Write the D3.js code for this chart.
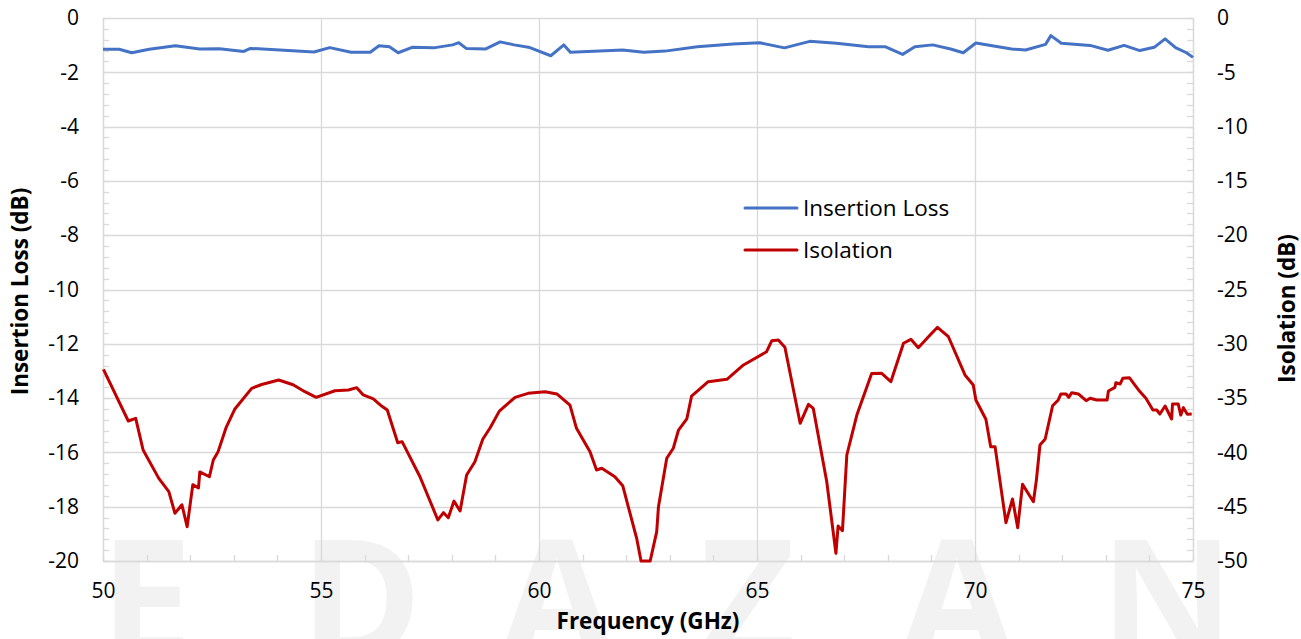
<!DOCTYPE html>
<html>
<head>
<meta charset="utf-8">
<script src="https://cdnjs.cloudflare.com/ajax/libs/d3/7.8.5/d3.min.js"></script>
<style>
  body { margin: 0; background: #fff; }
  text { font-family: "Open Sans", "Noto Sans", sans-serif; }
</style>
</head>
<body>
<div id="chart"></div>
<script>
// Insertion loss (left axis, dB) vs frequency (GHz)
var ilFreq = [50.0, 50.37, 50.66, 51.06, 51.66, 52.22, 52.67, 53.23, 53.38, 54.84, 55.2, 55.69, 56.13, 56.33, 56.57, 56.77, 57.09, 57.58, 58.02, 58.16, 58.33, 58.78, 59.11, 59.43, 59.79, 60.27, 60.57, 60.72, 61.92, 62.4,
  62.89, 63.63, 64.45, 65.06, 65.63, 66.21, 66.82, 67.56, 67.95, 68.34, 68.62, 69.03, 69.44, 69.73, 70.02, 70.84, 71.16, 71.62, 71.74, 71.98, 72.64, 73.05, 73.42, 73.78, 74.11, 74.36, 74.6, 74.85, 75.0];
var ilValue = [-1.15, -1.15, -1.28, -1.15, -1.02, -1.14, -1.13, -1.23, -1.12, -1.25, -1.09, -1.26, -1.26, -1.02, -1.06, -1.28, -1.08, -1.1, -0.99, -0.91, -1.12, -1.14, -0.88, -0.99, -1.09, -1.39, -0.99, -1.26, -1.18, -1.26,
  -1.22, -1.06, -0.96, -0.91, -1.1, -0.86, -0.93, -1.06, -1.06, -1.34, -1.06, -0.99, -1.14, -1.28, -0.92, -1.14, -1.18, -0.97, -0.65, -0.93, -1.01, -1.19, -1.01, -1.2, -1.08, -0.77, -1.09, -1.28, -1.45];

// Isolation (right axis, dB) vs frequency (GHz)
var isoFreq = [50.01, 50.58, 50.75, 50.92, 51.28, 51.51, 51.65, 51.81, 51.93, 52.06, 52.19, 52.22, 52.44, 52.53, 52.64, 52.82, 53.02, 53.41, 53.64, 54.03,
  54.36, 54.63, 54.89, 55.32, 55.63, 55.82, 55.97, 56.2, 56.39, 56.52, 56.76, 56.86, 57.27, 57.68, 57.81, 57.92, 58.05, 58.19, 58.34, 58.53,
  58.71, 58.88, 59.09, 59.45, 59.75, 60.14, 60.41, 60.71, 60.86, 61.17, 61.32, 61.44, 61.74, 61.92, 62.24, 62.34, 62.55, 62.7, 62.74, 62.93,
  63.08, 63.2, 63.39, 63.5, 63.88, 64.31, 64.69, 65.22, 65.34, 65.49, 65.64, 65.99, 66.18, 66.29, 66.6, 66.81, 66.86, 66.96, 67.06, 67.29,
  67.63, 67.86, 68.07, 68.36, 68.53, 68.7, 68.97, 69.14, 69.39, 69.77, 69.96, 70.02, 70.25, 70.36, 70.46, 70.71, 70.86, 70.98, 71.09, 71.34,
  71.41, 71.49, 71.61, 71.78, 71.91, 71.97, 72.09, 72.15, 72.22, 72.37, 72.55, 72.64, 72.79, 73.03, 73.06, 73.21, 73.23, 73.33, 73.39, 73.54,
  73.75, 73.92, 74.08, 74.17, 74.24, 74.36, 74.51, 74.53, 74.66, 74.72, 74.78, 74.87, 74.97];
var isoValue = [-32.35, -37.11, -36.86, -39.78, -42.39, -43.62, -45.61, -44.82, -46.84, -42.97, -43.28, -41.8, -42.24, -40.7, -39.93, -37.75, -36.03, -34.1, -33.75, -33.33,
  -33.77, -34.41, -34.93, -34.32, -34.25, -34.04, -34.71, -35.08, -35.73, -36.1, -39.11, -39.01, -42.24, -46.22, -45.55, -46.01, -44.48, -45.4, -42.08, -40.86,
  -38.79, -37.73, -36.2, -34.93, -34.56, -34.41, -34.62, -35.64, -37.78, -39.93, -41.62, -41.46, -42.24, -43.07, -47.91, -50, -50, -47.3, -45.0, -40.54,
  -39.62, -37.94, -36.92, -34.81, -33.49, -33.27, -31.95, -30.73, -29.71, -29.65, -30.32, -37.32, -35.57, -35.94, -42.7, -49.29, -46.78, -47.21, -40.24, -36.56,
  -32.73, -32.72, -33.49, -29.95, -29.59, -30.36, -29.19, -28.48, -29.35, -32.87, -33.79, -35.17, -36.95, -39.47, -39.47, -46.47, -44.29, -46.93, -42.94, -44.54,
  -42.48, -39.32, -38.77, -35.7, -35.17, -34.62, -34.62, -34.93, -34.5, -34.62, -35.24, -35.02, -35.17, -35.17, -34.35, -34.01, -33.58, -33.7, -33.18, -33.12,
  -34.25, -35.02, -36.1, -36.1, -36.46, -35.73, -36.92, -35.54, -35.54, -36.56, -35.88, -36.49, -36.46];

var xTicks = [50, 55, 60, 65, 70, 75];
var leftTicks = [0, -2, -4, -6, -8, -10, -12, -14, -16, -18, -20];
var rightTicks = [0, -5, -10, -15, -20, -25, -30, -35, -40, -45, -50];
var seriesNames = ["Insertion Loss", "Isolation"];

var W = 1301, H = 639;
var margin = {top: 18, right: 108, bottom: 78, left: 103};
var width = W - margin.left - margin.right;
var height = H - margin.top - margin.bottom;
var gridColor = "#d9d9d9";
var colors = ["#4472C4", "#C00000"];

var svg = d3.select("#chart").append("svg")
    .attr("width", W)
    .attr("height", H)
    .style("display", "block");

svg.append("rect").attr("width", W).attr("height", H).attr("fill", "#fff");

// faint watermark letters behind the chart
var mark = svg.append("g")
    .attr("fill", "#f2f2f2")
    .style("font-family", "Lato, sans-serif")
    .style("font-weight", 700)
    .style("font-size", "165px");
["E", "D", "A", "Z", "A", "N"].forEach(function (ch, i) {
    mark.append("text")
        .attr("x", 100 + i * 200)
        .attr("y", 658)
        .text(ch);
});

var x = d3.scaleLinear().domain([50, 75]).range([0, width]);
var yL = d3.scaleLinear().domain([-20, 0]).range([height, 0]);
var yR = d3.scaleLinear().domain([-50, 0]).range([height, 0]);

var g = svg.append("g").attr("transform", "translate(" + margin.left + "," + margin.top + ")");

// gridlines
g.append("g")
    .selectAll("line")
    .data(leftTicks)
    .enter().append("line")
    .attr("x1", 0).attr("x2", width)
    .attr("y1", function (d) { return Math.round(yL(d)) + 0.5; })
    .attr("y2", function (d) { return Math.round(yL(d)) + 0.5; })
    .attr("stroke", gridColor).attr("stroke-width", 1.3);
g.append("g")
    .selectAll("line")
    .data(xTicks)
    .enter().append("line")
    .attr("x1", function (d) { return Math.round(x(d)) + 0.5; })
    .attr("x2", function (d) { return Math.round(x(d)) + 0.5; })
    .attr("y1", 0).attr("y2", height)
    .attr("stroke", gridColor).attr("stroke-width", 1.3);

// minor ticks drawn inside the plot
var minorLeft = d3.range(0, 51).map(function (i) { return -i * 0.4; });
var minorRight = d3.range(0, 51).map(function (i) { return -i; });
var minorX = d3.range(50, 76, 1);

var ticks = g.append("g").attr("stroke", gridColor).attr("stroke-width", 1.3);
ticks.selectAll(".ml").data(minorLeft).enter().append("line")
    .attr("x1", 0).attr("x2", 6)
    .attr("y1", function (d) { return Math.round(yL(d)) + 0.5; })
    .attr("y2", function (d) { return Math.round(yL(d)) + 0.5; });
ticks.selectAll(".mr").data(minorRight).enter().append("line")
    .attr("x1", width - 6).attr("x2", width)
    .attr("y1", function (d) { return Math.round(yR(d)) + 0.5; })
    .attr("y2", function (d) { return Math.round(yR(d)) + 0.5; });
ticks.selectAll(".mx").data(minorX).enter().append("line")
    .attr("x1", function (d) { return Math.round(x(d)) + 0.5; })
    .attr("x2", function (d) { return Math.round(x(d)) + 0.5; })
    .attr("y1", height - 6).attr("y2", height);

// axes (labels only, lines styled light grey)
var fmt = function (d) { return String(d); };
var axisB = g.append("g")
    .attr("transform", "translate(0," + height + ")")
    .call(d3.axisBottom(x).tickValues(xTicks).tickFormat(fmt).tickSize(0).tickPadding(22));
var axisL = g.append("g")
    .call(d3.axisLeft(yL).tickValues(leftTicks).tickFormat(fmt).tickSize(0).tickPadding(24));
var axisR = g.append("g")
    .attr("transform", "translate(" + width + ",0)")
    .call(d3.axisRight(yR).tickValues(rightTicks).tickFormat(fmt).tickSize(0).tickPadding(24));

[axisB, axisL, axisR].forEach(function (a) {
    a.select(".domain").attr("stroke", gridColor).attr("stroke-width", 1.3);
    a.selectAll("text")
        .attr("fill", "#000")
        .style("font-size", "21px")
        .style("font-family", "'Open Sans', sans-serif");
});

// series lines
var lineL = d3.line()
    .x(function (d) { return x(d[0]); })
    .y(function (d) { return yL(d[1]); });
var lineR = d3.line()
    .x(function (d) { return x(d[0]); })
    .y(function (d) { return yR(d[1]); });

g.append("path")
    .datum(d3.zip(isoFreq, isoValue))
    .attr("fill", "none")
    .attr("stroke", colors[1])
    .attr("stroke-width", 3)
    .attr("stroke-linejoin", "round")
    .attr("d", lineR);

g.append("path")
    .datum(d3.zip(ilFreq, ilValue))
    .attr("fill", "none")
    .attr("stroke", colors[0])
    .attr("stroke-width", 3)
    .attr("stroke-linejoin", "round")
    .attr("d", lineL);

// axis titles
svg.append("text")
    .attr("x", margin.left + width / 2)
    .attr("y", 629)
    .attr("text-anchor", "middle")
    .style("font-size", "22.5px")
    .style("font-weight", "bold")
    .text("Frequency (GHz)");

svg.append("text")
    .attr("transform", "translate(28," + (margin.top + height / 2 + 2) + ") rotate(-90)")
    .attr("text-anchor", "middle")
    .style("font-size", "22.5px")
    .style("font-weight", "bold")
    .text("Insertion Loss (dB)");

svg.append("text")
    .attr("transform", "translate(1295," + (margin.top + height / 2 + 19) + ") rotate(-90)")
    .attr("text-anchor", "middle")
    .style("font-size", "22.5px")
    .style("font-weight", "bold")
    .text("Isolation (dB)");

// legend
var legend = svg.append("g")
    .selectAll("g")
    .data(seriesNames)
    .enter().append("g")
    .attr("transform", function (d, i) { return "translate(745," + (208 + i * 42) + ")"; });
legend.append("line")
    .attr("x1", 0).attr("x2", 52)
    .attr("stroke", function (d, i) { return colors[i]; })
    .attr("stroke-width", 3)
    .attr("stroke-linecap", "round");
legend.append("text")
    .attr("x", 58)
    .attr("dy", "0.35em")
    .style("font-size", "22.5px")
    .text(function (d) { return d; });
</script>
</body>
</html>
